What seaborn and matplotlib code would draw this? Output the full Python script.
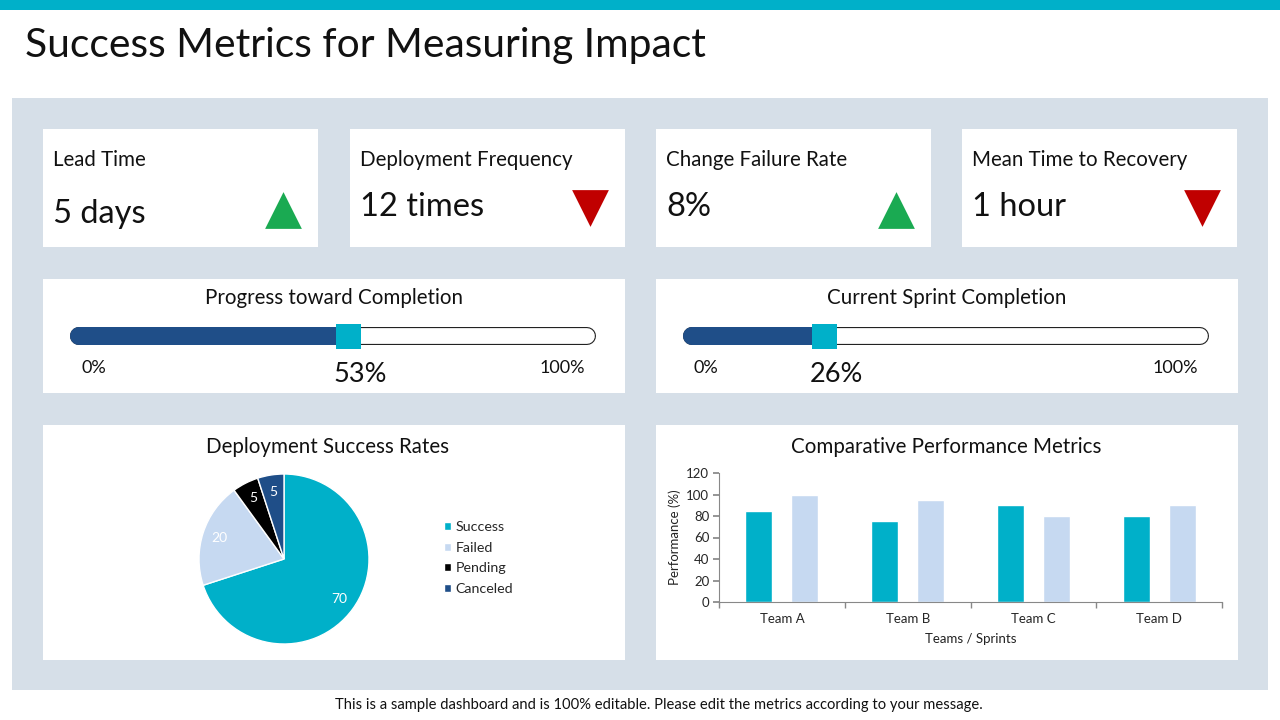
import matplotlib
matplotlib.use("Agg")
import matplotlib.pyplot as plt
import seaborn as sns
import pandas as pd
from matplotlib.patches import Rectangle

# ---------------- data ----------------
kpi_labels = ["Lead Time", "Deployment Frequency", "Change Failure Rate", "Mean Time to Recovery"]
kpi_values = ["5 days", "12 times", "8%", "1 hour"]
kpi_trend = ["up", "down", "up", "down"]

progress_titles = ["Progress toward Completion", "Current Sprint Completion"]
progress_values = [53, 26]

pie_labels = ["Success", "Failed", "Pending", "Canceled"]
pie_values = [70, 20, 5, 5]

teams = ["Team A", "Team B", "Team C", "Team D"]
series_1 = [85, 75, 90, 80]
series_2 = [100, 95, 80, 90]

# ---------------- style ----------------
TEAL = "#00B0C9"
NAVY = "#1F4E88"
LIGHT = "#C6D9F1"
PANEL = "#D6DFE8"
GREEN = "#1AAA52"
RED = "#C00000"

sns.set_theme(style="white")
plt.rcParams["font.family"] = ["Lato", "DejaVu Sans"]

W, H = 1280, 720
fig = plt.figure(figsize=(12.8, 7.2), dpi=100)


def fx(px):
    return px / W


def fy(py):
    return 1 - py / H


# background overlay in pixel coordinates
bg = fig.add_axes([0, 0, 1, 1])
bg.set_xlim(0, W)
bg.set_ylim(H, 0)
bg.axis("off")

bg.add_patch(Rectangle((0, 0), W, 10, color=TEAL, lw=0))
bg.add_patch(Rectangle((12, 98), 1256, 592, color=PANEL, lw=0))
bg.text(25, 45, "Success Metrics for Measuring Impact", fontsize=29.3, va="center", ha="left", color="#111111")
bg.text(659, 705, "This is a sample dashboard and is 100% editable. Please edit the metrics according to your message.",
        fontsize=10.6, ha="center", va="center", color="#111111")

# KPI cards
card_x = [43, 350, 656, 962]
for i, (lab, val, tr) in enumerate(zip(kpi_labels, kpi_values, kpi_trend)):
    x0 = card_x[i]
    bg.add_patch(Rectangle((x0, 129), 275, 118, color="white", lw=0))
    bg.text(x0 + 10, 160, lab, fontsize=14.8, va="center", ha="left", color="#111111")
    vy = 214 if i == 0 else 207
    bg.text(x0 + 10, vy, val, fontsize=23.5, va="center", ha="left", color="#111111")
    if tr == "up":
        bg.scatter([x0 + 240], [210], marker="^", s=700, color=GREEN, linewidths=0)
    else:
        bg.scatter([x0 + 240], [208], marker="v", s=700, color=RED, linewidths=0)

# progress cards
prog_card_x = [43, 656]
for i, (title, val) in enumerate(zip(progress_titles, progress_values)):
    x0 = prog_card_x[i]
    bg.add_patch(Rectangle((x0, 279), 582, 114, color="white", lw=0))
    bg.text(x0 + 291, 298, title, fontsize=14.8, ha="center", va="center", color="#111111")

    tx0, tx1 = x0 + 36, x0 + 544
    ax = fig.add_axes([fx(tx0), fy(356), fx(tx1 - tx0), 40 / H])
    ax.set_xlim(0, 100)
    ax.set_ylim(-1, 1)
    ax.axis("off")
    lw = 18 * 0.72
    ax.plot([0, 100], [0, 0], color="#222222", lw=lw, solid_capstyle="round", clip_on=False)
    ax.plot([0, 100], [0, 0], color="white", lw=lw - 1.6, solid_capstyle="round", clip_on=False)
    ax.plot([0, val], [0, 0], color=NAVY, lw=lw, solid_capstyle="round", clip_on=False)
    sns.scatterplot(x=[val], y=[0], marker="s", s=(25 * 0.72) ** 2, color=TEAL, linewidth=0, ax=ax,
                    clip_on=False, zorder=5)

    bg.text(x0 + 38, 368, "0%", fontsize=13, ha="left", va="center", color="#111111")
    bg.text(x0 + 497, 368, "100%", fontsize=13, ha="left", va="center", color="#111111")
    bg.text(tx0 + (tx1 - tx0) * val / 100 + 12, 374, f"{val}%", fontsize=19.5, ha="center", va="center",
            color="#111111")

# bottom cards
for x0 in prog_card_x:
    bg.add_patch(Rectangle((x0, 425), 582, 235, color="white", lw=0))
bg.text(328, 447, "Deployment Success Rates", fontsize=14.8, ha="center", va="center", color="#111111")
bg.text(946, 447, "Comparative Performance Metrics", fontsize=14.8, ha="center", va="center", color="#111111")

# pie
pax = fig.add_axes([fx(284 - 85), fy(559 + 85), fx(170), 170 / H])
wedges, texts = pax.pie(pie_values, colors=[TEAL, LIGHT, "black", NAVY], startangle=90, counterclock=False,
                        labels=[str(v) for v in pie_values], labeldistance=0.8,
                        textprops=dict(color="white", fontsize=10, ha="center", va="center"))
pax.set_xlim(-1, 1)
pax.set_ylim(-1, 1)
fig.legend(wedges, pie_labels, loc="center left", bbox_to_anchor=(fx(431), fy(558)), frameon=False,
           fontsize=10.3, handlelength=0.5, handleheight=0.5, handletextpad=0.3, labelspacing=0.6)

# bars
df = pd.DataFrame({
    "team": teams * 2,
    "value": series_1 + series_2,
    "series": ["Series 1"] * len(teams) + ["Series 2"] * len(teams),
})
bax = fig.add_axes([fx(719), fy(602), fx(1222 - 719), 129 / H])
sns.barplot(data=df, x="team", y="value", hue="series", palette=[TEAL, LIGHT], width=0.73, gap=0.41,
            legend=False, ax=bax, saturation=1)
bax.set_ylim(0, 120)
bax.set_yticks(range(0, 121, 20))
bax.set_xlim(-0.5, 3.5)
bax.set_xticks(range(len(teams)))
bax.set_xticklabels(teams)
bax.set_xticks([-0.5, 0.5, 1.5, 2.5, 3.5], minor=True)
bax.tick_params(axis="x", which="major", length=0, labelsize=9.5, pad=8)
bax.tick_params(axis="x", which="minor", length=4, color="#888888", bottom=True)
bax.tick_params(axis="y", length=4, color="#888888", labelsize=9.5, left=True, pad=3)
for s in ["top", "right"]:
    bax.spines[s].set_visible(False)
for s in ["left", "bottom"]:
    bax.spines[s].set_color("#888888")
    bax.spines[s].set_linewidth(0.8)
bax.set_xlabel("Teams / Sprints", fontsize=9.5, labelpad=6, color="#222222")
bax.set_ylabel("Performance (%)", fontsize=9.5, labelpad=4, color="#222222")
bax.set_facecolor("white")

fig.savefig("out.png", dpi=100)
